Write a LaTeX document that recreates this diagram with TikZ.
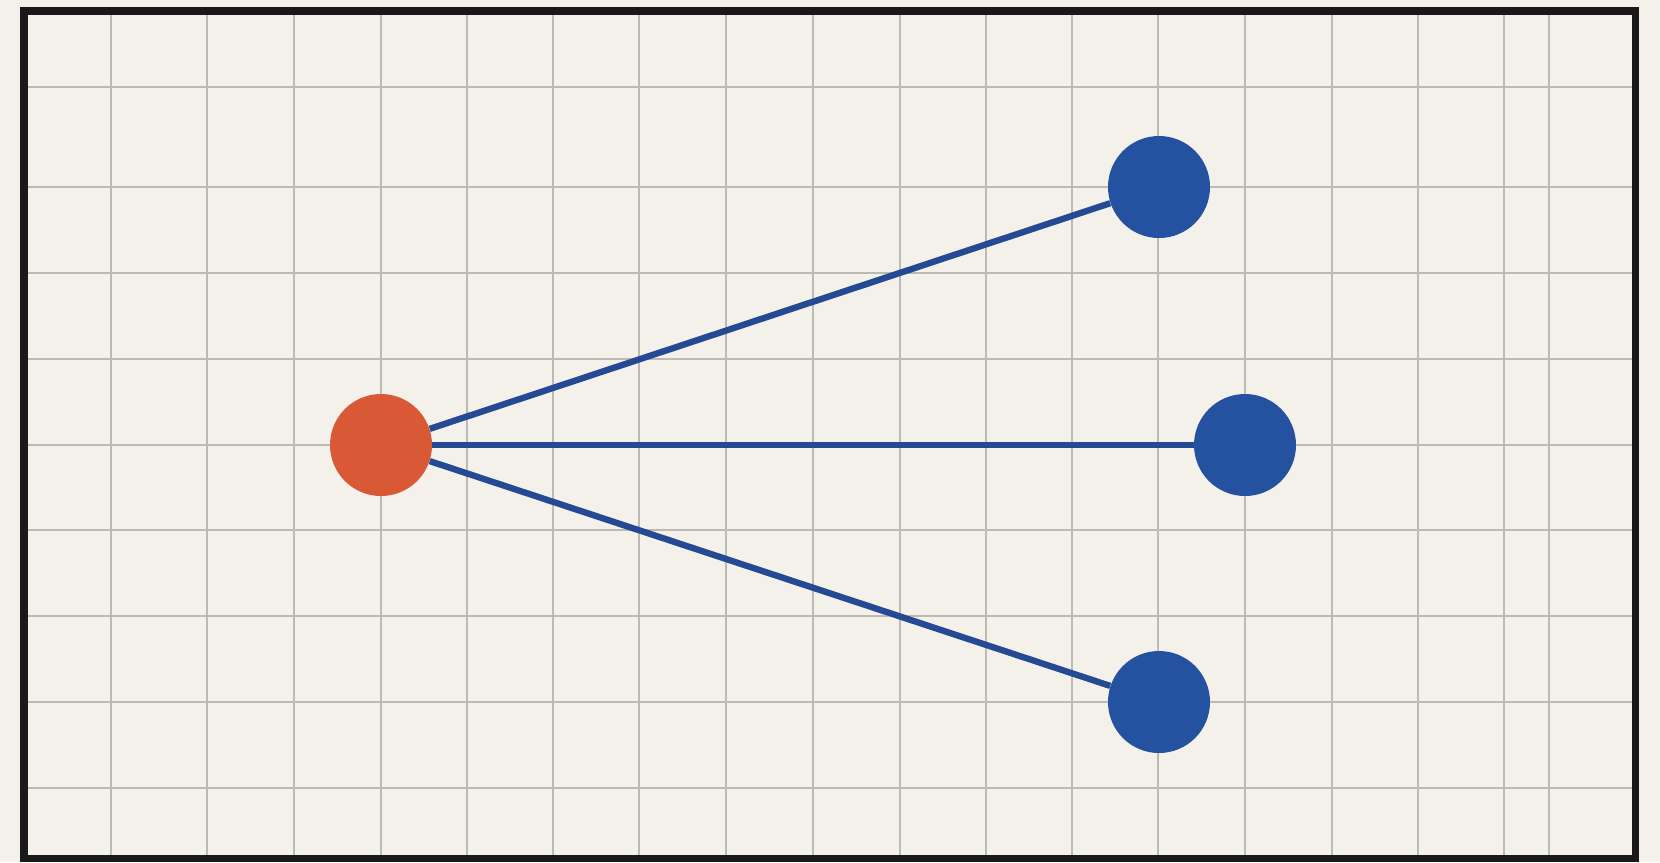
\documentclass[tikz,border=0pt]{standalone}
\usepackage{tikz}

\definecolor{paper}{HTML}{F3F1EA}
\definecolor{gridgray}{HTML}{BCBAB4}
\definecolor{rootred}{HTML}{D95836}
\definecolor{leafblue}{HTML}{2452A0}
\definecolor{edgeblue}{HTML}{234A92}

\begin{document}
\begin{tikzpicture}[x=0.2mm,y=-0.2mm,
    gridline/.style={gridgray,line width=1.2pt},
    dot/.style={circle,minimum size=20.4mm,inner sep=0pt},
    edge/.style={edgeblue,line width=3.6pt}]
    % paper and grid
    \fill[paper] (0,0) rectangle (1660,862);
    \useasboundingbox (0,0) rectangle (1660,862);
    \foreach \x in {111,207,294,381,467,553,639,726,813,900,986,1072,1158,1245,1332,1418,1504,1549}
        \draw[gridline] (\x,11) -- (\x,858);
    \foreach \y in {87,187,273,359,445,530,616,702,788}
        \draw[gridline] (24,\y) -- (1635,\y);
    \draw[black!90,line width=4pt] (24,11) rectangle (1635,858);

    % root and leaves
    \node[dot,fill=rootred] (R) at (381,445) {};
    \node[dot,fill=leafblue] (L1) at (1159,187) {};
    \node[dot,fill=leafblue] (L2) at (1245,445) {};
    \node[dot,fill=leafblue] (L3) at (1159,702) {};

    \draw[edge] (R) -- (L1);
    \draw[edge] (R) -- (L2);
    \draw[edge] (R) -- (L3);
\end{tikzpicture}
\end{document}
